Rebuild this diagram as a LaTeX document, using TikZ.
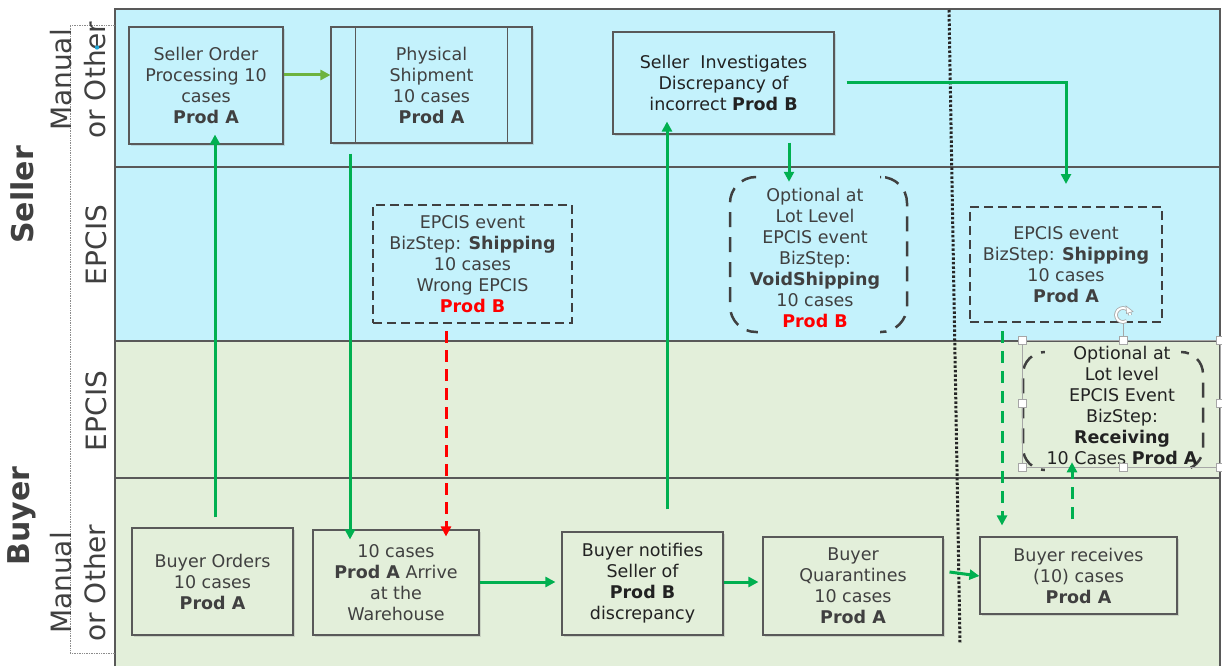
\documentclass[tikz,border=0pt]{standalone}
\usepackage{fontspec}
\setmainfont{DejaVu Sans}
\usetikzlibrary{arrows.meta,shadows}
\definecolor{cyanfill}{HTML}{C4F2FC}
\definecolor{greenfill}{HTML}{E3EFDA}
\definecolor{boxline}{HTML}{595959}
\definecolor{txt}{HTML}{404040}
\definecolor{txtdark}{HTML}{222222}
\definecolor{agreen}{HTML}{00B050}
\definecolor{lgreen}{HTML}{6DB33F}
\definecolor{pred}{HTML}{FF0000}
\definecolor{hgray}{HTML}{A6A6A6}
\definecolor{dotgray}{HTML}{8C8C8C}
\definecolor{dotblue}{HTML}{1FA5D6}
\newcommand\bxfont{\fontsize{17.5}{21}\selectfont}
\newcommand\lanefont{\fontsize{28}{34}\selectfont}
\newcommand\partyfont{\fontsize{30}{34}\selectfont\bfseries}
\newcommand\pb{\textcolor{pred}{\textbf{Prod B}}}
\begin{document}
\begin{tikzpicture}[x=1pt,y=-1pt,
  box/.style={draw=boxline, line width=1.1pt, inner sep=0pt, align=center, font=\bxfont, text=txt,
    drop shadow={opacity=0.25,shadow xshift=2pt,shadow yshift=-2pt}},
  sbox/.style={box, fill=cyanfill},
  bbox/.style={box, fill=greenfill},
  evbox/.style={draw=txt, line width=2pt, dash pattern=on 9pt off 5pt, inner sep=0pt, align=center, font=\bxfont, text=txt},
  optbox/.style={draw=txt, line width=2.5pt, dash pattern=on 15pt off 10pt, rounded corners=26pt, inner sep=0pt, align=center, font=\bxfont, text=txt},
  plain/.style={inner sep=0pt, align=center, font=\bxfont, text=txtdark},
  lane/.style={draw=boxline, line width=1.1pt},
  lanelabel/.style={rotate=90, align=center, font=\lanefont, text=txt},
  party/.style={rotate=90, font=\partyfont, text=txt},
  garrow/.style={draw=agreen, line width=3pt, -{Triangle[length=10pt,width=10pt]}},
  larrow/.style={draw=lgreen, line width=3pt, -{Triangle[length=10pt,width=10pt]}},
  gdash/.style={garrow, dash pattern=on 12pt off 8pt},
  rdash/.style={garrow, draw=pred, dash pattern=on 12pt off 7pt},
  dotline/.style={draw=black!85, line width=3pt, dash pattern=on 2.5pt off 2pt},
  handle/.style={draw=hgray, fill=white, line width=0.8pt, minimum size=8pt, inner sep=0pt}
]
\useasboundingbox (0,0) rectangle (1222,666);
% lanes
\fill[cyanfill] (115,9) rectangle (1220,341);
\fill[greenfill] (115,341) rectangle (1220,666);
\draw[lane] (115,666) -- (115,9) -- (1220,9) -- (1220,666);
\draw[lane] (115,167) -- (1220,167);
\draw[lane] (115,341) -- (1220,341);
\draw[lane] (115,478) -- (1220,478);
\draw[draw=dotgray, line width=0.7pt, densely dotted] (115,25) -- (70,25) -- (70,653) -- (115,653);
% lane labels
\node[party] (seller) at (22,195) {Seller};
\node[party] (buyer) at (22,516) {Buyer};
\node[lanelabel] (smo) at (78,80) {Manual\\or Other};
\node[lanelabel] (sep) at (96,245) {EPCIS};
\node[lanelabel] (bep) at (96,411) {EPCIS};
\node[lanelabel] (bmo) at (78,583) {Manual\\or Other};
\fill[dotblue] (97,47.5) circle[radius=2.2pt];
% seller boxes
\node[sbox, minimum width=154pt, minimum height=117pt] (SO) at (206,85.5) {Seller Order\\Processing 10\\cases\\\textbf{Prod A}};
\node[sbox, minimum width=201pt, minimum height=116pt] (PS) at (431.5,85) {Physical\\Shipment\\10 cases\\\textbf{Prod A}};
\draw[boxline, line width=1.1pt] ([xshift=25pt]PS.north west) -- ([xshift=25pt]PS.south west);
\draw[boxline, line width=1.1pt] ([xshift=-25pt]PS.north east) -- ([xshift=-25pt]PS.south east);
\node[sbox, text=txtdark, minimum width=221pt, minimum height=102pt] (SI) at (723.5,83) {Seller\ \ Investigates\\Discrepancy of\\incorrect \textbf{Prod B}};
\node[evbox, minimum width=199pt, minimum height=118pt] (EW) at (472.5,264) {EPCIS event\\BizStep: \textbf{Shipping}\\10 cases\\Wrong EPCIS\\\pb};
% optional void-shipping box: only corner pieces show on top and bottom edges
\node[optbox, minimum width=177pt, minimum height=155pt] (OV) at (818.5,254.5) {};
\fill[cyanfill] (758,172) rectangle (880,183);
\fill[cyanfill] (758,327) rectangle (880,337);
\node[inner sep=0pt, align=center, font=\bxfont, text=txt] (OVt) at (815,258) {Optional at\\Lot Level\\EPCIS event\\BizStep:\\\textbf{VoidShipping}\\10 cases\\\pb};
\node[evbox, minimum width=192pt, minimum height=115pt] (ES) at (1066,264.5) {EPCIS event\\BizStep: \textbf{Shipping}\\10 cases\\\textbf{Prod A}};
% buyer EPCIS optional box with selection frame
\node[optbox, rounded corners=22pt, minimum width=180pt, minimum height=118pt] (OR) at (1113,411) {};
\fill[greenfill] (1045,346) rectangle (1181,357);
\fill[greenfill] (1045,465) rectangle (1185,476);
\node[plain] (ORt) at (1122,405) {Optional at\\Lot level\\EPCIS Event\\BizStep:\\\textbf{Receiving}\\10 Cases \textbf{Prod A}};
\draw[draw=hgray, line width=0.8pt] (1022,340) rectangle (1220,467);
\coordinate (rot) at (1123,315);
\draw[draw=hgray, line width=0.8pt] (1123,340) -- (1123,323);
\draw[draw=hgray, line width=3.6pt] ([shift={(7,0)}]rot) arc[start angle=0, end angle=300, radius=7pt];
\draw[draw=white, line width=2pt] ([shift={(7,0)}]rot) arc[start angle=0, end angle=300, radius=7pt];
\fill[white, draw=hgray, line width=0.6pt] (1126,306) -- (1133,311.5) -- (1126.5,313.5) -- cycle;
\foreach \p in {(1022,340),(1123,340),(1220,340),(1022,403.5),(1220,403.5),(1022,467),(1123,467),(1220,467)}
  \node[handle] at \p {};
% buyer boxes
\node[bbox, minimum width=161pt, minimum height=107pt] (BO) at (212.5,581.5) {Buyer Orders\\10 cases\\\textbf{Prod A}};
\node[bbox, minimum width=166pt, minimum height=105pt] (AR) at (396,582.5) {10 cases\\\textbf{Prod A} Arrive\\at the\\Warehouse};
\node[bbox, text=txtdark, minimum width=161pt, minimum height=103pt] (BN) at (642.5,583.5) {Buyer notifies\\Seller of\\\textbf{Prod B}\\discrepancy};
\node[bbox, minimum width=180pt, minimum height=98pt] (BQ) at (853,586) {Buyer\\Quarantines\\10 cases\\\textbf{Prod A}};
\node[bbox, minimum width=197pt, minimum height=77pt] (BR) at (1078.5,575.5) {Buyer receives\\(10) cases\\\textbf{Prod A}};
% dotted divider
\coordinate (dtop) at (949,10);
\coordinate (dbot) at (960,643);
\draw[dotline] (dtop) -- (dbot);
% connectors
\draw[garrow] ([xshift=2.5pt,yshift=10pt]BO.north) -- ([xshift=2.5pt,yshift=10pt]BO.north |- SO.south);
\draw[larrow] ([yshift=10.5pt]SO.east) -- ([yshift=10.5pt]SO.east -| PS.west);
\draw[garrow] ([xshift=-81.5pt,yshift=-10pt]PS.south) -- ([xshift=-81.5pt,yshift=-10pt]PS.south |- AR.north);
\draw[rdash] ([xshift=-26.5pt,yshift=-7pt]EW.south) -- ([xshift=-26.5pt,yshift=-7pt]EW.south |- AR.north);
\draw[garrow, shorten >=6pt] ([yshift=0.5pt]AR.east) -- ([yshift=0.5pt]AR.east -| BN.west);
\draw[garrow, shorten >=9pt] ([xshift=24.5pt,yshift=22pt]BN.north) -- ([xshift=24.5pt,yshift=22pt]BN.north |- SI.south);
\draw[garrow] ([xshift=65.5pt,yshift=-8pt]SI.south) -- ([xshift=65.5pt,yshift=-6pt]SI.south |- OV.north);
\draw[garrow, shorten >=22pt] ([xshift=12pt]SI.east) -| (ES.north);
\draw[garrow, shorten >=4pt] ([yshift=1.5pt]BN.east) -- ([yshift=1.5pt]BN.east -| BQ.west);
\draw[garrow] ([xshift=6pt,yshift=14pt]BQ.east) -- ([yshift=-0.5pt]BR.west);
\draw[gdash, shorten >=19pt] ([xshift=-64pt,yshift=-8pt]ES.south) -- ([xshift=-64pt,yshift=-8pt]ES.south |- BR.north);
\draw[gdash, shorten >=8pt] ([xshift=-6.5pt,yshift=17pt]BR.north) -- ([xshift=-6.5pt,yshift=17pt]BR.north |- OR.south);
\end{tikzpicture}
\end{document}
